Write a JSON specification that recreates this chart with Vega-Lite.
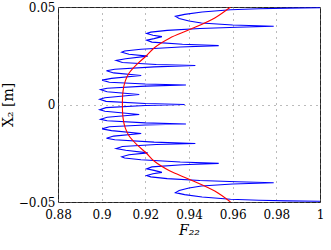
{
  "$schema": "https://vega.github.io/schema/vega-lite/v6.json",
  "width": 262,
  "height": 195,
  "autosize": "none",
  "padding": {"left": 58, "top": 7, "right": 11, "bottom": 48},
  "config": {
    "font": "DejaVu Serif",
    "view": {"stroke": "#222222", "strokeWidth": 1},
    "axis": {
      "labelFont": "DejaVu Serif",
      "labelFontSize": 12,
      "labelColor": "#000000",
      "titleFont": "DejaVu Serif",
      "titleFontSize": 14,
      "titleFontWeight": "normal",
      "titleColor": "#000000",
      "domain": false,
      "ticks": false,
      "grid": true,
      "gridColor": "#777777",
      "gridDash": [1, 5],
      "gridWidth": 1,
      "labelFlush": false,
      "labelOverlap": false
    }
  },
  "datasets": {
    "blue": [
      {"x": 1.0, "y": 0.0496}, {"x": 0.985, "y": 0.0494}, {"x": 0.972, "y": 0.0491}, {"x": 0.959, "y": 0.0486},
      {"x": 0.946, "y": 0.0474}, {"x": 0.938, "y": 0.0462}, {"x": 0.9338, "y": 0.0452}, {"x": 0.9355, "y": 0.0441},
      {"x": 0.940, "y": 0.0428}, {"x": 0.9457, "y": 0.0418}, {"x": 0.960, "y": 0.0408}, {"x": 0.9788, "y": 0.0401},
      {"x": 0.962, "y": 0.0396}, {"x": 0.945, "y": 0.0390}, {"x": 0.930, "y": 0.0380}, {"x": 0.9225, "y": 0.0371},
      {"x": 0.9206, "y": 0.0364}, {"x": 0.9235, "y": 0.0355}, {"x": 0.9276, "y": 0.0348}, {"x": 0.9240, "y": 0.0338},
      {"x": 0.9206, "y": 0.0330}, {"x": 0.9230, "y": 0.0320}, {"x": 0.937, "y": 0.0309}, {"x": 0.9536, "y": 0.0302},
      {"x": 0.936, "y": 0.0295}, {"x": 0.918, "y": 0.0283}, {"x": 0.9105, "y": 0.0274}, {"x": 0.9092, "y": 0.0268},
      {"x": 0.9125, "y": 0.0258}, {"x": 0.9211, "y": 0.0248}, {"x": 0.9110, "y": 0.0235}, {"x": 0.9066, "y": 0.0226},
      {"x": 0.9095, "y": 0.0215}, {"x": 0.925, "y": 0.0205}, {"x": 0.9429, "y": 0.0200}, {"x": 0.924, "y": 0.0193},
      {"x": 0.906, "y": 0.0181}, {"x": 0.9022, "y": 0.0173}, {"x": 0.9055, "y": 0.0162}, {"x": 0.9181, "y": 0.0149},
      {"x": 0.9045, "y": 0.0134}, {"x": 0.9002, "y": 0.0125}, {"x": 0.9035, "y": 0.0114}, {"x": 0.920, "y": 0.0105},
      {"x": 0.9386, "y": 0.0100}, {"x": 0.920, "y": 0.0094}, {"x": 0.9025, "y": 0.0083}, {"x": 0.8995, "y": 0.0076},
      {"x": 0.9025, "y": 0.0065}, {"x": 0.9172, "y": 0.0051}, {"x": 0.9015, "y": 0.0035}, {"x": 0.8991, "y": 0.0027},
      {"x": 0.9020, "y": 0.0016}, {"x": 0.920, "y": 0.0005}, {"x": 0.938, "y": 0.0},
      {"x": 0.920, "y": -0.0005}, {"x": 0.9020, "y": -0.0016}, {"x": 0.8991, "y": -0.0027}, {"x": 0.9015, "y": -0.0035},
      {"x": 0.9172, "y": -0.0051}, {"x": 0.9025, "y": -0.0065}, {"x": 0.8995, "y": -0.0076}, {"x": 0.9025, "y": -0.0083},
      {"x": 0.920, "y": -0.0094}, {"x": 0.9386, "y": -0.0100}, {"x": 0.920, "y": -0.0105}, {"x": 0.9035, "y": -0.0114},
      {"x": 0.9002, "y": -0.0125}, {"x": 0.9045, "y": -0.0134}, {"x": 0.9181, "y": -0.0149}, {"x": 0.9055, "y": -0.0162},
      {"x": 0.9022, "y": -0.0173}, {"x": 0.906, "y": -0.0181}, {"x": 0.924, "y": -0.0193}, {"x": 0.9429, "y": -0.0200},
      {"x": 0.925, "y": -0.0205}, {"x": 0.9095, "y": -0.0215}, {"x": 0.9066, "y": -0.0226}, {"x": 0.9110, "y": -0.0235},
      {"x": 0.9211, "y": -0.0248}, {"x": 0.9125, "y": -0.0258}, {"x": 0.9092, "y": -0.0268}, {"x": 0.9105, "y": -0.0274},
      {"x": 0.918, "y": -0.0283}, {"x": 0.936, "y": -0.0295}, {"x": 0.9536, "y": -0.0302}, {"x": 0.937, "y": -0.0309},
      {"x": 0.9230, "y": -0.0320}, {"x": 0.9206, "y": -0.0330}, {"x": 0.9240, "y": -0.0338}, {"x": 0.9276, "y": -0.0348},
      {"x": 0.9235, "y": -0.0355}, {"x": 0.9206, "y": -0.0364}, {"x": 0.9225, "y": -0.0371}, {"x": 0.930, "y": -0.0380},
      {"x": 0.945, "y": -0.0390}, {"x": 0.962, "y": -0.0396}, {"x": 0.9788, "y": -0.0401}, {"x": 0.960, "y": -0.0408},
      {"x": 0.9457, "y": -0.0418}, {"x": 0.940, "y": -0.0428}, {"x": 0.9355, "y": -0.0441}, {"x": 0.9338, "y": -0.0452},
      {"x": 0.938, "y": -0.0462}, {"x": 0.946, "y": -0.0474}, {"x": 0.959, "y": -0.0486}, {"x": 0.972, "y": -0.0491},
      {"x": 0.985, "y": -0.0494}, {"x": 1.0, "y": -0.0496}
    ],
    "red": [
      {"x": 0.959, "y": 0.05}, {"x": 0.9518, "y": 0.0444}, {"x": 0.9403, "y": 0.0384}, {"x": 0.9311, "y": 0.034},
      {"x": 0.924, "y": 0.029}, {"x": 0.9205, "y": 0.025}, {"x": 0.9165, "y": 0.021}, {"x": 0.9125, "y": 0.016},
      {"x": 0.9108, "y": 0.012}, {"x": 0.9098, "y": 0.007}, {"x": 0.9095, "y": 0.0},
      {"x": 0.9098, "y": -0.007}, {"x": 0.9108, "y": -0.012}, {"x": 0.9125, "y": -0.016}, {"x": 0.9165, "y": -0.021},
      {"x": 0.9205, "y": -0.025}, {"x": 0.924, "y": -0.029}, {"x": 0.9311, "y": -0.034}, {"x": 0.9403, "y": -0.0384},
      {"x": 0.9518, "y": -0.0444}, {"x": 0.959, "y": -0.05}
    ]
  },
  "encoding": {
    "x": {
      "field": "x", "type": "quantitative",
      "scale": {"domain": [0.88, 1], "nice": false, "zero": false},
      "axis": {"values": [0.88, 0.9, 0.92, 0.94, 0.96, 0.98, 1], "format": "~g", "title": "F₂₂", "titleFontStyle": "italic", "labelPadding": 7, "titlePadding": 3}
    },
    "y": {
      "field": "y", "type": "quantitative",
      "scale": {"domain": [-0.05, 0.05], "nice": false, "zero": false},
      "axis": {"values": [-0.05, 0, 0.05], "format": "~g", "title": "X₂ [m]", "labelPadding": 3, "titlePadding": 3}
    },
    "order": {"field": "y", "sort": "descending"}
  },
  "layer": [
    {"data": {"name": "blue"}, "mark": {"type": "line", "color": "#0000ff", "strokeWidth": 1.1, "clip": true}},
    {"data": {"name": "red"}, "mark": {"type": "line", "color": "#ff0000", "strokeWidth": 1.1, "interpolate": "catmull-rom", "clip": true}}
  ]
}
